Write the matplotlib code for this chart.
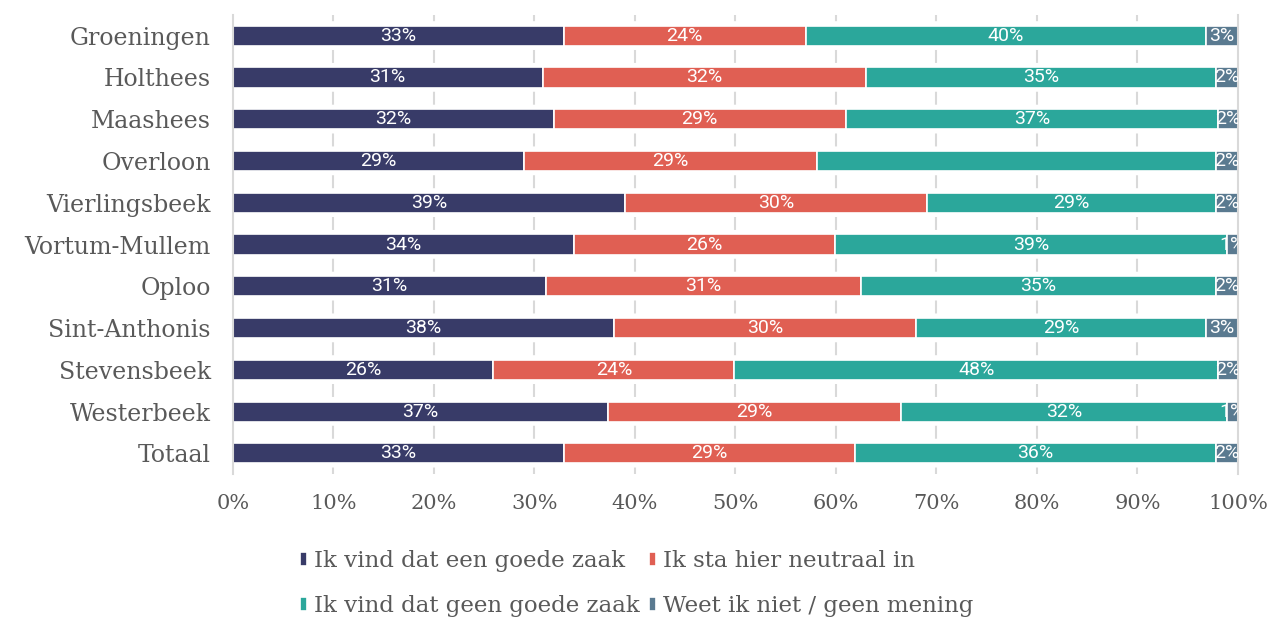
import matplotlib.pyplot as plt
import numpy as np

# Kernen en aandelen (%) per antwoord
categories = ["Groeningen", "Holthees", "Maashees", "Overloon", "Vierlingsbeek",
              "Vortum-Mullem", "Oploo", "Sint-Anthonis", "Stevensbeek",
              "Westerbeek", "Totaal"]
goede_zaak = [32.9, 30.8, 31.9, 29.0, 39.0, 33.9, 31.1, 37.9, 25.9, 37.3, 32.9]
neutraal = [24.1, 32.2, 29.1, 29.1, 30.1, 26.0, 31.4, 30.1, 24.0, 29.2, 29.0]
geen_goede_zaak = [39.8, 34.8, 37.0, 39.7, 28.7, 39.0, 35.3, 28.8, 48.1, 32.4, 35.9]
weet_niet = [3.2, 2.2, 2.0, 2.2, 2.2, 1.1, 2.2, 3.2, 2.0, 1.1, 2.2]

series_names = ["Ik vind dat een goede zaak", "Ik sta hier neutraal in",
                "Ik vind dat geen goede zaak", "Weet ik niet / geen mening"]
colors = ["#383B68", "#E05F53", "#2BA79B", "#5A7A90"]
# labels that are missing in the original chart: (series index, category)
hidden_labels = {(2, "Overloon")}

serif = ["DejaVu Serif"]
text_grey = "#595959"

fig = plt.figure(figsize=(12.73, 6.19), dpi=100)
ax_rect = [0.183, 0.234, 0.7895, 0.742]
ax = fig.add_axes(ax_rect)

y = np.arange(len(categories))
left = np.zeros(len(categories))
containers = []
for i, (vals, name, col) in enumerate(zip(
        [goede_zaak, neutraal, geen_goede_zaak, weet_niet], series_names, colors)):
    vals = np.array(vals)
    bars = ax.barh(y, vals, left=left, height=0.48, color=col,
                   edgecolor="white", linewidth=1.2, label=name, zorder=2)
    labels = ["" if (i, c) in hidden_labels else f"{v:.0f}%"
              for v, c in zip(vals, categories)]
    ax.bar_label(bars, labels=labels, label_type="center", color="white",
                 fontsize=14, family="Roboto", clip_on=True)
    containers.append(bars)
    left += vals

ax.set_xlim(0, 100)
ax.set_ylim(len(categories) - 0.5, -0.5)
ax.set_yticks(y)
ax.set_yticklabels(categories, family=serif, fontsize=17, color=text_grey)
ax.set_xticks(np.arange(0, 101, 10))
ax.set_xticklabels([f"{t}%" for t in range(0, 101, 10)], family=serif,
                   fontsize=15, color=text_grey)
ax.tick_params(length=0)
ax.tick_params(axis="y", pad=16)
ax.tick_params(axis="x", pad=14)

# dashed gridlines that show only in the gaps between bars
ax_h_pt = ax_rect[3] * 6.19 * 72
period = ax_h_pt / len(categories)
dash_on = period * 0.31
plt.rcParams["lines.scale_dashes"] = False
for xv in range(10, 100, 10):
    ax.axvline(xv, color="#D9D9D9", linewidth=1.5, zorder=1,
               linestyle=(dash_on / 2, (dash_on, period - dash_on)))

for side in ["top", "bottom"]:
    ax.spines[side].set_visible(False)
for side in ["left", "right"]:
    ax.spines[side].set_color("#D9D9D9")
    ax.spines[side].set_linewidth(1.5)

handles = containers
order = [0, 2, 1, 3]
fig.legend([handles[k] for k in order], [series_names[k] for k in order],
           loc="upper left", bbox_to_anchor=(0.236, 0.111), ncol=2, frameon=False,
           prop={"family": serif, "size": 16.5}, labelcolor=text_grey,
           handlelength=0.3, handleheight=0.55, handletextpad=0.3,
           columnspacing=0.4, labelspacing=1.0, borderpad=0, borderaxespad=0)

fig.savefig("out.png", dpi=100)
